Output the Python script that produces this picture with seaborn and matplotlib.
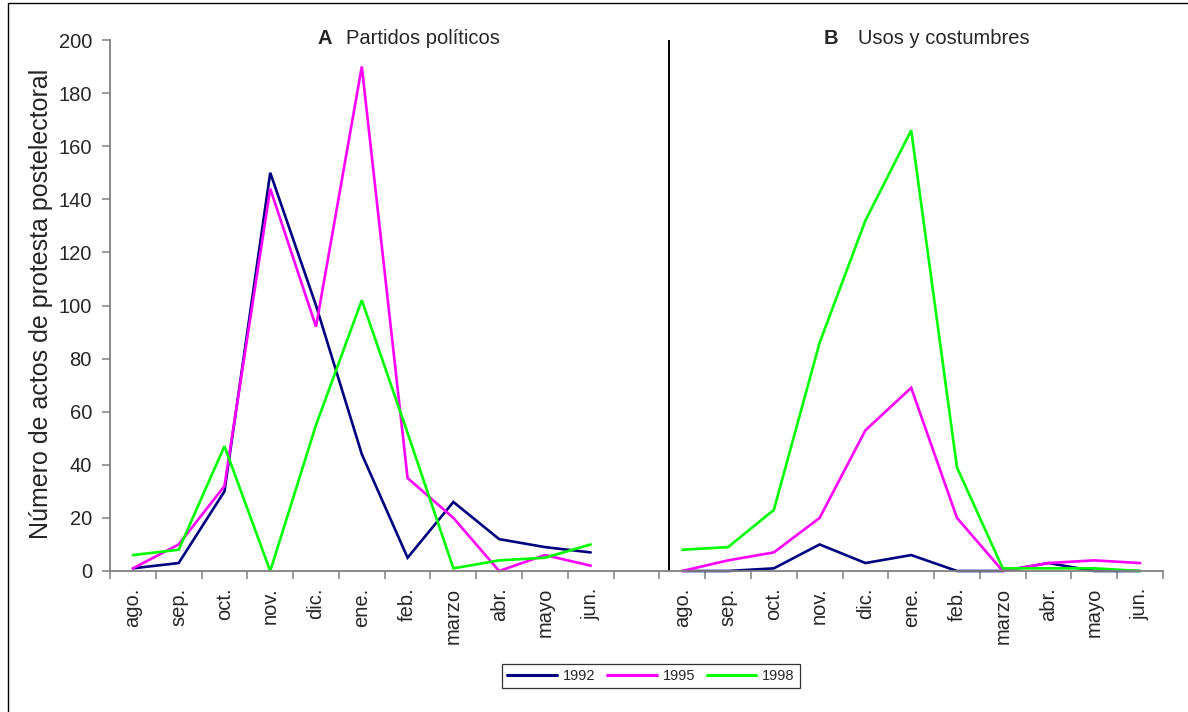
import numpy as np
import pandas as pd
import matplotlib
matplotlib.use("Agg")
import matplotlib.pyplot as plt
import seaborn as sns
from matplotlib.patches import Rectangle
from matplotlib.lines import Line2D

# ---------------- data ----------------
months = ["ago.", "sep.", "oct.", "nov.", "dic.", "ene.", "feb.", "marzo", "abr.", "mayo", "jun."]
years = ["1992", "1995", "1998"]

a_1992 = [1, 3, 30, 150, 100, 44, 5, 26, 12, 9, 7]
a_1995 = [1, 10, 32, 144, 92, 190, 35, 20, 0, 6, 2]
a_1998 = [6, 8, 47, 0, 55, 102, 52, 1, 4, 5, 10]

b_1992 = [0, 0, 1, 10, 3, 6, 0, 0, 3, 0, 0]
b_1995 = [0, 4, 7, 20, 53, 69, 20, 0, 3, 4, 3]
b_1998 = [8, 9, 23, 86, 132, 166, 39, 1, 1, 1, 0]

panel_letters = ["A", "B"]
panel_titles = ["Partidos políticos", "Usos y costumbres"]
y_label = "Número de actos de protesta postelectoral"
y_ticks = [0, 20, 40, 60, 80, 100, 120, 140, 160, 180, 200]

colors = ["#000080", "#FF00FF", "#00FF00"]

# ---------------- long table ----------------
n = len(months)
gap = 1
rows = []
for p, series in enumerate([[a_1992, a_1995, a_1998], [b_1992, b_1995, b_1998]]):
    offset = p * (n + gap)
    for yr, vals in zip(years, series):
        for i, v in enumerate(vals):
            rows.append({"pos": offset + i, "value": v, "year": yr,
                         "panel": panel_letters[p], "month": months[i]})
df = pd.DataFrame(rows)
n_total = 2 * n + gap

# ---------------- figure ----------------
sns.set_style("white")
plt.rcParams["font.family"] = ["Liberation Sans", "DejaVu Sans"]

W, H = 1188, 712
fig = plt.figure(figsize=(W / 100, H / 100), dpi=100)
fig.patch.set_facecolor("white")

def fx(px):
    return px / W

def fy(py):
    return 1 - py / H

ax = fig.add_axes([fx(110), fy(571), fx(1163) - fx(110), fy(40) - fy(571)])

sns.lineplot(data=df, x="pos", y="value", hue="year", units="panel",
             estimator=None, palette=colors, linewidth=1.9, legend=False,
             ax=ax, sort=True)
for ln in ax.lines:
    ln.set_clip_on(False)
    ln.set_solid_joinstyle("miter")

ax.set_xlim(-0.5, n_total - 0.5)
ax.set_ylim(0, 200)

# separator between the two panels (inside the gap, nearer panel B)
sep_x = n - 1 + gap + 0.7
ax.axvline(sep_x, color="black", lw=1.4, zorder=1)

# spines
for s in ["top", "right"]:
    ax.spines[s].set_visible(False)
for s in ["left", "bottom"]:
    ax.spines[s].set_color("#808080")
    ax.spines[s].set_linewidth(1.3)

# y ticks
ax.set_yticks(y_ticks)
ax.set_yticklabels([str(t) for t in y_ticks])
ax.tick_params(axis="y", which="major", direction="out", length=6, width=1.1,
               color="#808080", pad=7, labelsize=14.5, left=True)

# x ticks: boundaries (major, no label), centers (minor, labels)
ax.set_xticks(np.arange(-0.5, n_total, 1.0))
ax.set_xticklabels([])
ax.tick_params(axis="x", which="major", direction="out", length=6, width=1.1,
               color="#808080", bottom=True)
centers = list(range(n)) + list(range(n + gap, n_total))
ax.set_xticks(centers, minor=True)
ax.set_xticklabels(months + months, minor=True, rotation=90, fontsize=14.5,
                   va="top", ha="center")
ax.tick_params(axis="x", which="minor", length=0, pad=12, bottom=True)
ax.set_xlabel("")
ax.set_ylabel("")

# y label
fig.text(fx(41), fy(304), y_label, rotation=90, ha="center", va="center",
         fontsize=18)

# panel titles
fig.text(fx(318), fy(44), panel_letters[0], fontsize=14.5, fontweight="bold",
         ha="left", va="baseline")
fig.text(fx(346), fy(44), panel_titles[0], fontsize=14.5, ha="left", va="baseline")
fig.text(fx(824), fy(44), panel_letters[1], fontsize=14.5, fontweight="bold",
         ha="left", va="baseline")
fig.text(fx(858), fy(44), panel_titles[1], fontsize=14.5, ha="left", va="baseline")

# legend
handles = [Line2D([0], [0], color=c, lw=2.2) for c in colors]
leg = fig.legend(handles, years, loc="center", bbox_to_anchor=(fx(651), fy(676)),
                 ncol=3, frameon=True, fancybox=False, fontsize=10.5,
                 handlelength=3.4, handletextpad=0.4, columnspacing=0.8,
                 borderpad=0.35, borderaxespad=0)
leg.get_frame().set_edgecolor("#000000")
leg.get_frame().set_linewidth(0.9)

# outer figure border
fig.patches.append(Rectangle((fx(8), -0.1), 1.2, fy(3) + 0.1, transform=fig.transFigure,
                             fill=False, edgecolor="#000000", lw=1.0))

fig.savefig("out.png", dpi=100)
